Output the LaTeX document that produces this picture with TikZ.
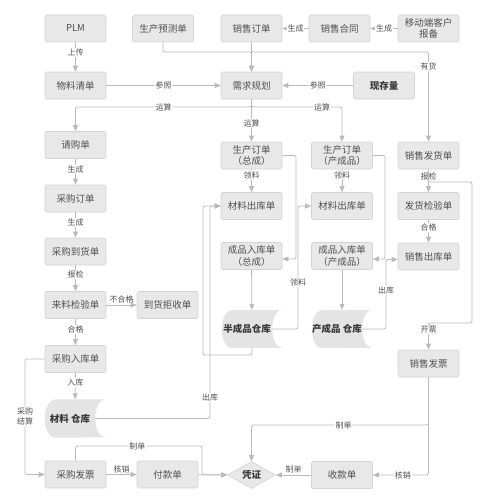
\documentclass[tikz,border=0pt]{standalone}
\usepackage{fontspec}
\setmainfont{Noto Sans CJK SC}
\usetikzlibrary{arrows.meta,shapes.geometric,backgrounds}
\definecolor{boxfill}{HTML}{E8E8E8}
\definecolor{storefill}{HTML}{E4E4E4}
\definecolor{boxline}{HTML}{D4D4D4}
\definecolor{txt}{HTML}{505050}
\definecolor{txtb}{HTML}{383838}
\definecolor{conncol}{HTML}{BABABA}
\newcommand\storeshape[1]{\fill[storefill] ([xshift=10pt]#1.north west) -- (#1.north east) arc[start angle=90,end angle=270,x radius=10pt,y radius=19pt] -- ([xshift=10pt]#1.south west) arc[start angle=270,end angle=90,x radius=10pt,y radius=19pt] -- cycle;}
\tikzset{
  box/.style={draw=boxline, fill=boxfill, line width=0.6pt, rounded corners=1.5pt,
    minimum width=61pt, minimum height=27pt, inner sep=1pt, align=center,
    font=\fontsize{9.5}{11.5}\selectfont, text=txt},
  boldbox/.style={box, font=\fontsize{9.5}{11.5}\selectfont\bfseries, text=txtb},
  store/.style={minimum width=60pt, minimum height=38pt, inner sep=0pt},
  storetxt/.style={font=\fontsize{9.5}{11.5}\selectfont\bfseries, text=txtb, xshift=-5pt, inner sep=0pt},
  pzstyle/.style={diamond, aspect=1.8, draw=boxline, fill=boxfill, line width=0.6pt,
    minimum width=48pt, minimum height=27pt, inner sep=0pt,
    font=\fontsize{9.5}{11.5}\selectfont\bfseries, text=txtb},
  conn/.style={draw=conncol, line width=0.8pt, rounded corners=2pt,
    -{Triangle[length=6pt,width=5pt]}},
  lbl/.style={fill=white, inner sep=0.8pt, align=center,
    font=\fontsize{8}{10}\selectfont, text=txt},
  albl/.style={inner sep=1pt, font=\fontsize{8}{10}\selectfont, text=txt},
}
\begin{document}
\begin{tikzpicture}[x=1pt,y=1pt]
\useasboundingbox (0,0) rectangle (493,-503);
% nodes
\node[box] (plm) at (75.5,-28.5) {PLM};
\node[box] (fc) at (163,-28.5) {生产预测单};
\node[box] (so) at (251.5,-28.5) {销售订单};
\node[box] (sc) at (339.5,-28.5) {销售合同};
\node[box] (mb) at (428.5,-28.5) {移动端客户\\报备};
\node[box] (bom) at (75.5,-85.5) {物料清单};
\node[box] (xq) at (251.5,-85.5) {需求规划};
\node[boldbox] (xc) at (384,-85.5) {现存量};
\node[box] (qg) at (75.5,-145) {请购单};
\node[box] (cg) at (75.5,-198.5) {采购订单};
\node[box] (dh) at (75.5,-251.5) {采购到货单};
\node[box] (jy) at (75.5,-305) {来料检验单};
\node[box] (js) at (167.5,-305) {到货拒收单};
\node[box] (pr) at (75.5,-359) {采购入库单};
\node[store, label={[storetxt]center:材料 仓库}] (mc) at (75,-418.5) {};
\node[box] (pi) at (75.5,-474.5) {采购发票};
\node[box] (pay) at (167.5,-474.5) {付款单};
\node[pzstyle] (pz) at (251.5,-475) {凭证};
\node[box] (sk) at (342,-475) {收款单};
\node[box] (po1) at (251.5,-155.5) {生产订单\\（总成）};
\node[box] (mo1) at (251.5,-206) {材料出库单};
\node[box] (fp1) at (251.5,-256) {成品入库单\\（总成）};
\node[store, label={[storetxt]center:半成品仓库}] (bc) at (252,-329) {};
\node[box] (po2) at (342,-155.5) {生产订单\\（产成品）};
\node[box] (mo2) at (342,-206) {材料出库单};
\node[box] (fp2) at (342,-256) {成品入库单\\（产成品）};
\node[store, label={[storetxt]center:产成品 仓库}] (cp) at (342,-329) {};
\node[box] (sd) at (428.5,-155.5) {销售发货单};
\node[box] (sj) at (428.5,-206) {发货检验单};
\node[box] (xsc) at (428.5,-256.5) {销售出库单};
\node[box] (sf) at (428.5,-363.5) {销售发票};
\begin{scope}[on background layer]
\storeshape{mc}
\storeshape{bc}
\storeshape{cp}
\end{scope}
% helper coordinates
\coordinate (y52) at (0,-52);
\coordinate (y107) at (0,-107);
\coordinate (x25) at (25,0);
\coordinate (c446) at (202,-446);
\coordinate (y425) at (0,-425);
\coordinate (k1) at (472,-182);
\coordinate (k2) at (472,-323);
\coordinate (x386) at (386,0);
\coordinate (x296) at (296,0);
\coordinate (x385) at (385,0);
\coordinate (x298) at (298,0);
\coordinate (c355) at (203,-355);
\coordinate (c210) at (210,-206);
% connectors
\draw[conn] (plm) -- node[lbl,pos=0.35]{上传} (bom);
\draw[conn] (fc.south) |- (xq.north |- y52) -- (xq.north);
\draw[conn] (so) -- (xq);
\draw[conn] (so.south) -- (so.south |- y52) -| node[lbl,pos=0.58]{有货} (sd.north);
\draw[conn] (sc) -- node[lbl]{生成} (so);
\draw[conn] (mb) -- node[lbl]{生成} (sc);
\draw[conn] (bom) -- node[lbl]{参照} (xq);
\draw[conn] (xc) -- node[lbl]{参照} (xq);
\draw[conn] (xq.south) |- node[lbl,pos=0.75]{运算} (qg.north |- y107) -- (qg.north);
\draw[conn] (xq.south) |- node[lbl,pos=0.89]{运算} (po2.north |- y107) -- (po2.north);
\draw[conn] (xq) -- node[lbl,pos=0.56]{运算} (po1);
\draw[conn] (qg) -- node[lbl,pos=0.4]{生成} (cg);
\draw[conn] (cg) -- node[lbl,pos=0.4]{生成} (dh);
\draw[conn] (dh) -- node[lbl,pos=0.37]{报检} (jy);
\draw[conn] (jy) -- node[albl,above]{不合格} (js);
\draw[conn] (jy) -- node[lbl,pos=0.4]{合格} (pr);
\draw[conn] (pr) -- node[lbl,pos=0.37]{入库} (mc);
\draw[conn] (pr.west) -- (pr.west -| x25) |- node[lbl,pos=0.25]{采购\\结算} (pi.west);
\draw[conn] (pi) -- node[albl,above]{核销} (pay);
\draw[conn] (pay) -- (pz);
\draw[conn] (pi.north) |- node[lbl,pos=0.745]{制单} (c446) |- (pz.west);
\draw[conn] (sf.south) |- node[lbl,pos=0.74]{制单} (pz.north |- y425) -- (pz.north);
\draw[conn] (sf.south) |- node[lbl,pos=0.73]{核销} (sk.east);
\draw[conn] (sk) -- node[albl,above]{制单} (pz);
\draw[conn] (sd) -- node[lbl,pos=0.3]{报检} (sj);
\draw[conn] (sj) -- node[lbl,pos=0.35]{合格} (xsc);
\draw[conn] (sd.south) |- (k1) -- (k2) -| node[lbl,pos=0.63]{开票} (sf.north);
\draw[conn] ([xshift=-10pt]cp.east) -- (cp.east -| x386) |- node[lbl,pos=0.28]{出库} ([yshift=-3pt]xsc.west);
\draw[conn] (po1) -- node[lbl,pos=0.25]{领料} (mo1);
\draw[conn] (po2) -- node[lbl,pos=0.25]{领料} (mo2);
\draw[conn] (po1.east) -- (po1.east -| x296) |- ([yshift=-3pt]fp1.east);
\draw[conn] (po2.east) -- (po2.east -| x385) |- ([yshift=-3pt]fp2.east);
\draw[conn] (fp1) -- (bc);
\draw[conn] (fp2) -- (cp);
\draw[conn] ([xshift=-10pt]bc.east) -| node[lbl,pos=0.69]{领料} (x298 |- mo2.west) -- (mo2.west);
\draw[conn] (bc.south) |- (c355) |- (mo1.west);
\draw[conn] ([xshift=-10pt]mc.east) -| node[lbl,pos=0.55]{出库} (c210) -- (mo1.west);
\end{tikzpicture}
\end{document}
